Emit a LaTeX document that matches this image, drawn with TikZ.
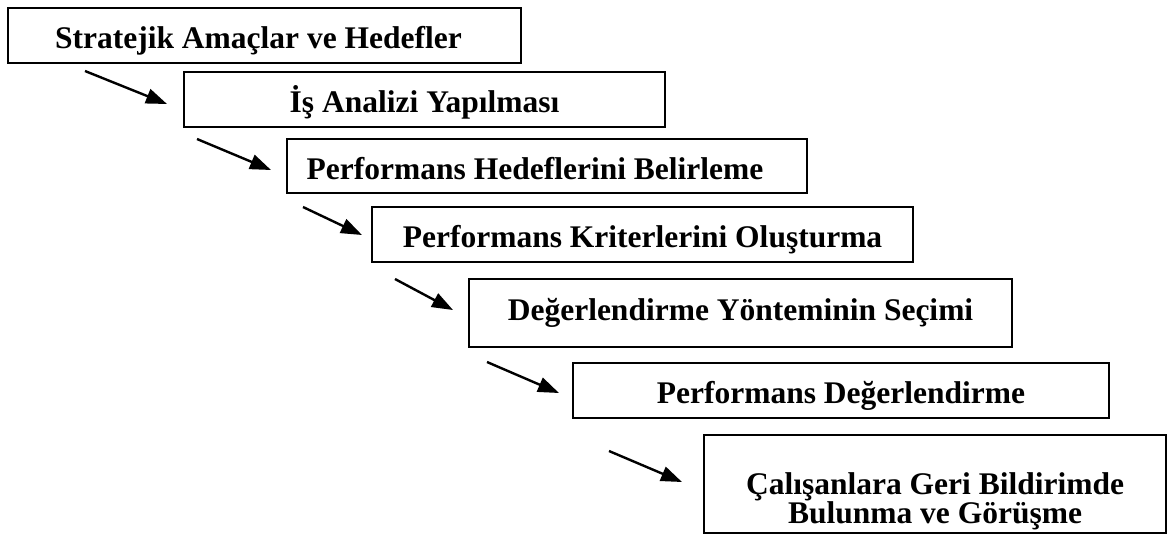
\documentclass[tikz,border=0pt]{standalone}
\usepackage{fontspec}
\setmainfont{Liberation Serif}
\usetikzlibrary{arrows.meta}
\begin{document}
\begin{tikzpicture}[x=1pt,y=-1pt,
  stagebox/.style={draw, line width=1.8pt, inner sep=0pt, align=center,
    font=\fontsize{31.5}{28}\selectfont\bfseries},
  stage/.style={stagebox, text height=30pt, text depth=4pt},
  flow/.style={line width=2.4pt, -{Triangle[length=21pt,width=15pt]}}]
\useasboundingbox (0,0) rectangle (1169,536);

% stages of the process, stepping down to the right
\node[stage, minimum width=513pt, minimum height=55pt] (s1) at (264.5,35.5)
  {Stratejik Amaçlar ve Hedefler\hspace*{12pt}};
\node[stage, minimum width=481pt, minimum height=55pt] (s2) at (424.5,99.5)
  {İş Analizi Yapılması};
\node[stage, minimum width=520pt, minimum height=54pt] (s3) at (547,166)
  {Performans Hedeflerini Belirleme\hspace*{24pt}};
\node[stage, minimum width=541pt, minimum height=55pt] (s4) at (642.5,234.5)
  {Performans Kriterlerini Oluşturma};
\node[stage, text height=22pt, text depth=8pt,
      minimum width=543pt, minimum height=68pt] (s5) at (740.5,313)
  {Değerlendirme Yönteminin Seçimi};
\node[stage, minimum width=536pt, minimum height=55pt] (s6) at (841,390.5)
  {Performans Değerlendirme};
\node[stagebox, minimum width=462pt, minimum height=98pt] (s7) at (935,484)
  {\mbox{}\\[29pt]Çalışanlara Geri Bildirimde\\Bulunma ve Görüşme};

% free-standing arrows between the stages
\coordinate (a1s) at (85,71);   \coordinate (a1e) at (167,104);
\coordinate (a2s) at (197,139); \coordinate (a2e) at (271,170);
\coordinate (a3s) at (303,207); \coordinate (a3e) at (362,235);
\coordinate (a4s) at (395,279); \coordinate (a4e) at (453,310);
\coordinate (a5s) at (487,362); \coordinate (a5e) at (559,393);
\coordinate (a6s) at (609,451); \coordinate (a6e) at (682,482);

\draw[flow] (a1s) -- (a1e);
\draw[flow] (a2s) -- (a2e);
\draw[flow] (a3s) -- (a3e);
\draw[flow] (a4s) -- (a4e);
\draw[flow] (a5s) -- (a5e);
\draw[flow] (a6s) -- (a6e);
\end{tikzpicture}
\end{document}
